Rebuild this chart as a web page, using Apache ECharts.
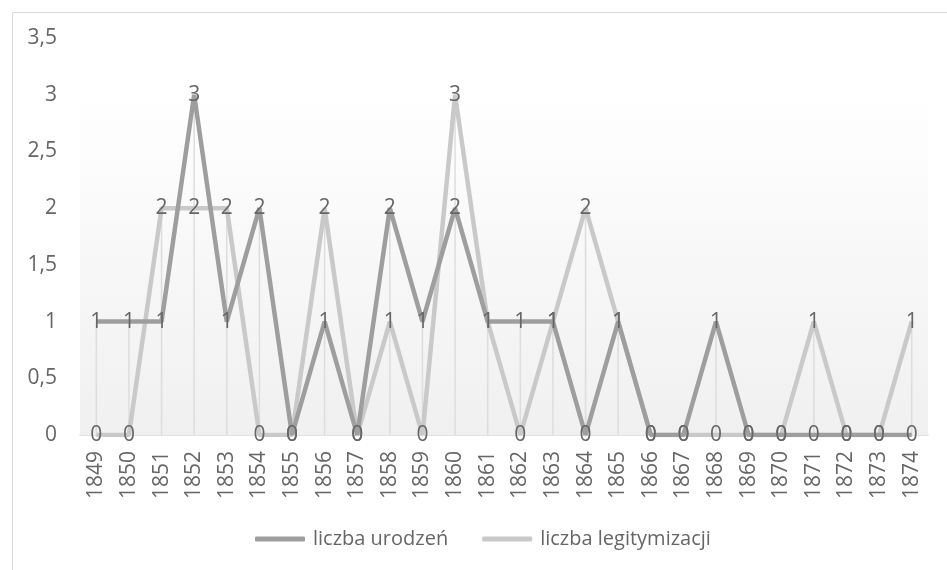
<!DOCTYPE html>
<html>
<head>
<meta charset="utf-8">
<script src="https://cdn.jsdelivr.net/npm/echarts@6/dist/echarts.min.js"></script>
<style>
  html, body { margin: 0; padding: 0; background: #fff; }
  #chart { width: 947px; height: 570px; }
</style>
</head>
<body>
<div id="chart"></div>
<script>
var years = ['1849', '1850', '1851', '1852', '1853', '1854', '1855', '1856', '1857', '1858', '1859', '1860', '1861',
    '1862', '1863', '1864', '1865', '1866', '1867', '1868', '1869', '1870', '1871', '1872', '1873', '1874'];
var urodzenia = [1, 1, 1, 3, 1, 2, 0, 1, 0, 2, 1, 2, 1, 1, 1, 0, 1, 0, 0, 1, 0, 0, 0, 0, 0, 0];
var legitymizacje = [0, 0, 2, 2, 2, 0, 0, 2, 0, 1, 0, 3, 1, 0, 1, 2, 1, 0, 0, 0, 0, 0, 1, 0, 0, 1];
var yTicks = [0, 0.5, 1, 1.5, 2, 2.5, 3, 3.5];

// drop lines go up to the higher of the two series
var dropLines = urodzenia.map(function (v, i) {
    return Math.max(v, legitymizacje[i]);
});

var font = '"Open Sans", sans-serif';
var textColor = '#666666';
var labelStyle = {
    show: true,
    position: 'inside',
    color: textColor,
    fontFamily: font,
    fontSize: 21
};

var chart = echarts.init(document.getElementById('chart'));
var option = {
    animation: false,
    backgroundColor: '#fff',
    graphic: [{
        type: 'rect',
        left: 10,
        top: 10,
        shape: { width: 960, height: 600 },
        style: { fill: 'none', stroke: '#d9d9d9', lineWidth: 1 },
        z: -1
    }],
    grid: {
        left: 80,
        right: 19,
        top: 38,
        bottom: 135
    },
    legend: {
        bottom: 16,
        left: 250,
        itemGap: 34,
        itemWidth: 50,
        itemHeight: 5,
        icon: 'roundRect',
        textStyle: { color: textColor, fontFamily: font, fontSize: 20, padding: [0, 0, 0, 3] },
        data: ['liczba urodzeń', 'liczba legitymizacji']
    },
    xAxis: {
        type: 'category',
        data: years,
        boundaryGap: true,
        axisLine: { lineStyle: { color: '#d9d9d9', width: 1.5 } },
        axisTick: { show: false },
        axisLabel: {
            rotate: 90,
            color: textColor,
            fontFamily: font,
            fontSize: 21,
            margin: 16,
            interval: 0
        }
    },
    yAxis: {
        type: 'value',
        min: 0,
        max: yTicks[yTicks.length - 1],
        interval: 0.5,
        splitLine: { show: false },
        axisLine: { show: false },
        axisTick: { show: false },
        axisLabel: {
            color: textColor,
            fontFamily: font,
            fontSize: 21,
            margin: 23,
            formatter: function (v) {
                return String(v).replace('.', ',');
            }
        }
    },
    series: [
        {
            name: 'tlo',
            type: 'line',
            data: [],
            silent: true,
            markArea: {
                silent: true,
                itemStyle: {
                    color: {
                        type: 'linear', x: 0, y: 0, x2: 0, y2: 1,
                        colorStops: [
                            { offset: 0, color: '#ffffff' },
                            { offset: 1, color: '#f0f0f0' }
                        ]
                    }
                },
                data: [[{ yAxis: 3.05 }, { yAxis: 0 }]]
            },
            z: 0
        },
        {
            name: 'drop',
            type: 'bar',
            data: dropLines,
            barWidth: 1.5,
            silent: true,
            itemStyle: { color: '#dddddd' },
            z: 1
        },
        {
            name: 'liczba legitymizacji',
            type: 'line',
            data: legitymizacje,
            symbol: 'circle',
            symbolSize: 0.1,
            showAllSymbol: true,
            lineStyle: { color: '#c9c9c9', width: 4.5 },
            itemStyle: { color: '#c9c9c9' },
            label: labelStyle,
            z: 2
        },
        {
            name: 'liczba urodzeń',
            type: 'line',
            data: urodzenia,
            symbol: 'circle',
            symbolSize: 0.1,
            showAllSymbol: true,
            lineStyle: { color: '#9e9e9e', width: 4.5 },
            itemStyle: { color: '#9e9e9e' },
            label: labelStyle,
            z: 3
        }
    ]
};
chart.setOption(option);
</script>
</body>
</html>
